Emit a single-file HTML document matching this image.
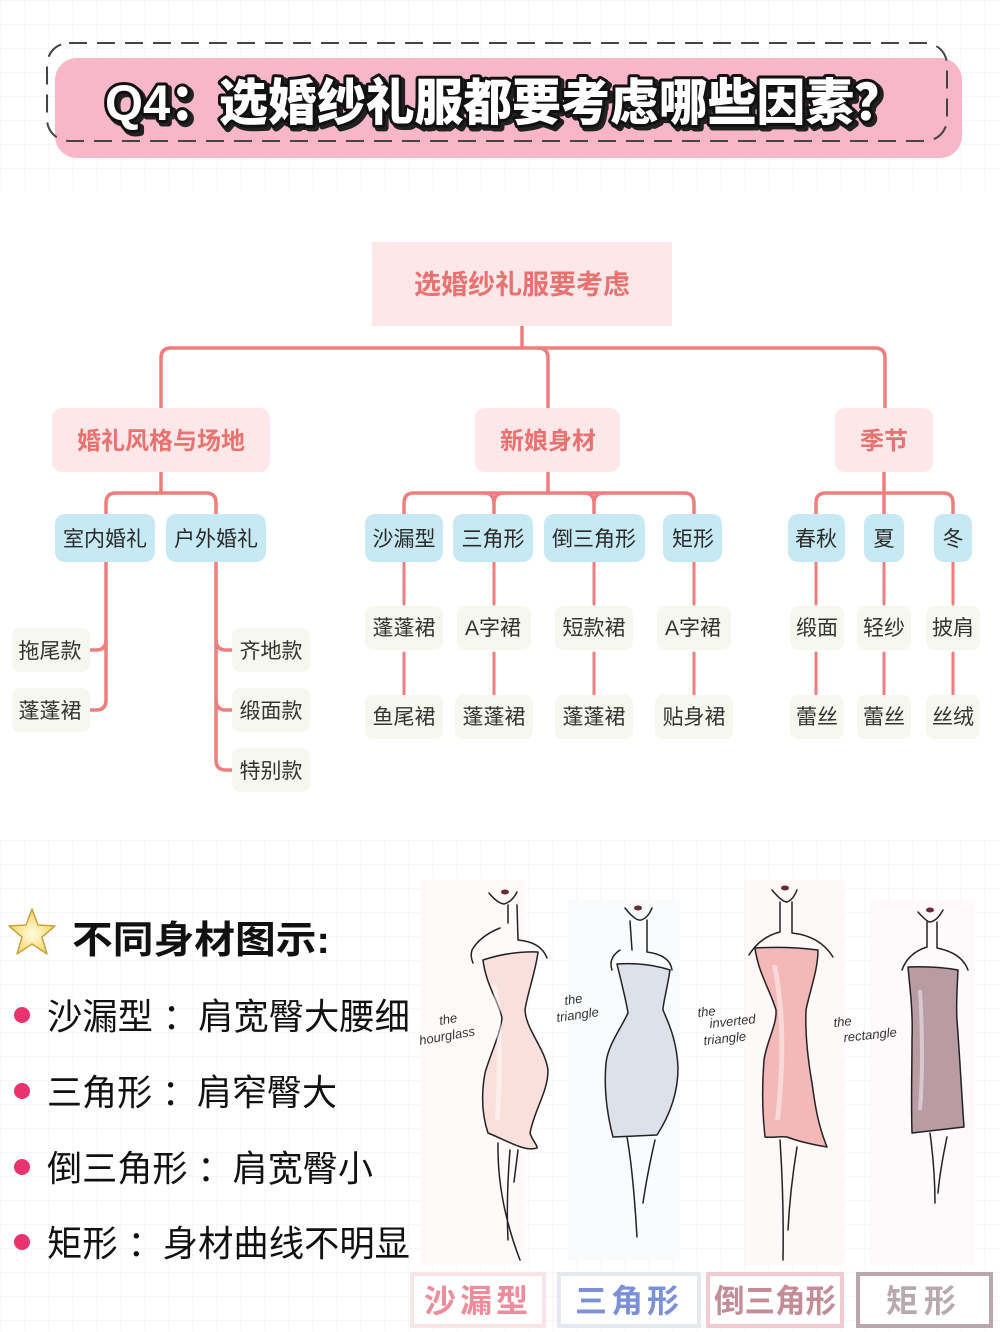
<!DOCTYPE html>
<html><head><meta charset="utf-8">
<style>
html,body{margin:0;padding:0;background:#fff;}
svg{display:block;}
text{font-family:"Liberation Sans","Noto Sans CJK SC",sans-serif;}
.hw{font-family:"DejaVu Sans","Liberation Sans",sans-serif;font-style:italic;font-size:13px;fill:#333;}
</style></head>
<body>
<svg width="1000" height="1332" viewBox="0 0 1000 1332" xmlns="http://www.w3.org/2000/svg">
<defs>
<pattern id="g" width="24" height="24" patternUnits="userSpaceOnUse"><path d="M24 0 L0 0 0 24" fill="none" stroke="#efefef" stroke-width="1"/></pattern>
<radialGradient id="star" cx="50%" cy="55%" r="60%"><stop offset="0" stop-color="#fffbe0"/><stop offset="1" stop-color="#f2cf52"/></radialGradient>
</defs>
<rect width="1000" height="1332" fill="#fff"/>
<rect x="0" y="0" width="1000" height="192" fill="url(#g)"/>
<rect x="0" y="840" width="1000" height="492" fill="url(#g)"/>

<!-- header -->
<rect x="55" y="58" width="907" height="100" rx="22" fill="#f7b7c8"/>
<rect x="47" y="43" width="900" height="98" rx="22" fill="none" stroke="#444" stroke-width="2" stroke-dasharray="18 10"/>
<text x="108" y="123" font-size="50" font-weight="900" textLength="798" lengthAdjust="spacingAndGlyphs" fill="#222" stroke="#222" stroke-width="7" stroke-linejoin="round">Q4：选婚纱礼服都要考虑哪些因素？</text>
<text x="105" y="120" font-size="50" font-weight="900" textLength="798" lengthAdjust="spacingAndGlyphs" fill="#fff" stroke="#111" stroke-width="6" stroke-linejoin="round" paint-order="stroke">Q4：选婚纱礼服都要考虑哪些因素？</text>

<!-- tree connectors -->
<g fill="none" stroke="#ee7d7e" stroke-width="3.5" stroke-linecap="round">
<path d="M522,326 L522,348"/>
<path d="M161,408 L161,358 Q161,348 171,348 L875,348 Q885,348 885,358 L885,408"/>
<path d="M538,348 Q548,348 548,358 L548,408"/>
<path d="M161,472 L161,493"/>
<path d="M106,515 L106,503 Q106,493 116,493 L206,493 Q216,493 216,503 L216,515"/>
<path d="M548,472 L548,493"/>
<path d="M404,515 L404,503 Q404,493 414,493 L684,493 Q694,493 694,503 L694,515"/>
<path d="M484,493 Q494,493 494,503 L494,515 M504,493 Q494,493 494,503"/>
<path d="M584,493 Q594,493 594,503 L594,515 M604,493 Q594,493 594,503"/>
<path d="M884,472 L884,515"/>
<path d="M816,515 L816,503 Q816,493 826,493 L943,493 Q953,493 953,503 L953,515"/>
<path d="M106,562 L106,700 Q106,710 96,710 L91,710"/>
<path d="M106,640 Q106,650 96,650 L91,650"/>
<path d="M216,562 L216,760 Q216,770 226,770 L232,770"/>
<path d="M216,640 Q216,650 226,650 L232,650"/>
<path d="M216,700 Q216,710 226,710 L232,710"/>
</g>
<g fill="none" stroke="#ee7d7e" stroke-width="3" stroke-linecap="round">
<path d="M404,562 L404,604 M404,653 L404,694"/>
<path d="M494,562 L494,604 M494,653 L494,694"/>
<path d="M594,562 L594,604 M594,653 L594,694"/>
<path d="M694,562 L694,604 M694,653 L694,694"/>
<path d="M816,562 L816,604 M816,653 L816,694"/>
<path d="M884,562 L884,604 M884,653 L884,694"/>
<path d="M953,562 L953,604 M953,653 L953,694"/>
</g>

<!-- root & level 1 -->
<rect x="372" y="242" width="300" height="84" fill="#fde7e9"/>
<text x="522" y="294" font-size="27" font-weight="bold" fill="#e9716f" text-anchor="middle">选婚纱礼服要考虑</text>
<rect x="52" y="408" width="218" height="64" rx="10" fill="#fde7e9"/>
<text x="161" y="449" font-size="24" font-weight="bold" fill="#e9716f" text-anchor="middle">婚礼风格与场地</text>
<rect x="475" y="408" width="145" height="64" rx="10" fill="#fde7e9"/>
<text x="548" y="449" font-size="24" font-weight="bold" fill="#e9716f" text-anchor="middle">新娘身材</text>
<rect x="835" y="408" width="98" height="64" rx="10" fill="#fde7e9"/>
<text x="884" y="449" font-size="24" font-weight="bold" fill="#e9716f" text-anchor="middle">季节</text>

<!-- level 2 -->
<g fill="#c6e9f3">
<rect x="55" y="514" width="100" height="48" rx="10"/>
<rect x="166" y="514" width="100" height="48" rx="10"/>
<rect x="365" y="514" width="78" height="48" rx="10"/>
<rect x="453" y="514" width="80" height="48" rx="10"/>
<rect x="544" y="514" width="101" height="48" rx="10"/>
<rect x="663" y="514" width="59" height="48" rx="10"/>
<rect x="788" y="514" width="57" height="48" rx="10"/>
<rect x="864" y="514" width="40" height="48" rx="10"/>
<rect x="934" y="514" width="38" height="48" rx="10"/>
</g>
<g font-size="21" fill="#2a2a2a" text-anchor="middle">
<text x="105" y="546">室内婚礼</text>
<text x="216" y="546">户外婚礼</text>
<text x="404" y="546">沙漏型</text>
<text x="493" y="546">三角形</text>
<text x="594" y="546">倒三角形</text>
<text x="693" y="546">矩形</text>
<text x="816" y="546">春秋</text>
<text x="884" y="546">夏</text>
<text x="953" y="546">冬</text>
</g>

<!-- level 3 boxes -->
<g fill="#f6f8ef">
<rect x="12" y="628" width="78" height="44" rx="8"/>
<rect x="12" y="688" width="78" height="44" rx="8"/>
<rect x="232" y="628" width="78" height="44" rx="8"/>
<rect x="232" y="688" width="78" height="44" rx="8"/>
<rect x="232" y="748" width="78" height="44" rx="8"/>
<rect x="365" y="606" width="78" height="44" rx="8"/>
<rect x="365" y="695" width="78" height="44" rx="8"/>
<rect x="457" y="606" width="74" height="44" rx="8"/>
<rect x="455" y="695" width="78" height="44" rx="8"/>
<rect x="555" y="606" width="78" height="44" rx="8"/>
<rect x="555" y="695" width="78" height="44" rx="8"/>
<rect x="657" y="606" width="74" height="44" rx="8"/>
<rect x="655" y="695" width="78" height="44" rx="8"/>
<rect x="790" y="606" width="54" height="44" rx="8"/>
<rect x="790" y="695" width="54" height="44" rx="8"/>
<rect x="857" y="606" width="54" height="44" rx="8"/>
<rect x="857" y="695" width="54" height="44" rx="8"/>
<rect x="926" y="606" width="54" height="44" rx="8"/>
<rect x="926" y="695" width="54" height="44" rx="8"/>
</g>
<g font-size="21" fill="#333" text-anchor="middle">
<text x="50" y="658">拖尾款</text>
<text x="50" y="718">蓬蓬裙</text>
<text x="271" y="658">齐地款</text>
<text x="271" y="718">缎面款</text>
<text x="271" y="778">特别款</text>
<text x="404" y="635">蓬蓬裙</text>
<text x="404" y="724">鱼尾裙</text>
<text x="493" y="635">A字裙</text>
<text x="494" y="724">蓬蓬裙</text>
<text x="594" y="635">短款裙</text>
<text x="594" y="724">蓬蓬裙</text>
<text x="693" y="635">A字裙</text>
<text x="694" y="724">贴身裙</text>
<text x="817" y="635">缎面</text>
<text x="817" y="724">蕾丝</text>
<text x="884" y="635">轻纱</text>
<text x="884" y="724">蕾丝</text>
<text x="953" y="635">披肩</text>
<text x="953" y="724">丝绒</text>
</g>

<!-- bottom left -->
<polygon points="32,909 38,925 55,926 42,937 47,954 32,944 17,954 22,937 9,926 26,925" fill="url(#star)" stroke="#c9a23a" stroke-width="1.5" stroke-linejoin="round"/>
<text x="72" y="953" font-size="38" font-weight="bold" fill="#111" textLength="258" lengthAdjust="spacingAndGlyphs">不同身材图示:</text>
<g fill="#e8336f">
<circle cx="22" cy="1015" r="8"/>
<circle cx="22" cy="1091" r="8"/>
<circle cx="22" cy="1167" r="8"/>
<circle cx="22" cy="1242" r="8"/>
</g>
<g font-size="36" fill="#111">
<text x="47" y="1029" textLength="363" lengthAdjust="spacingAndGlyphs">沙漏型 ：肩宽臀大腰细</text>
<text x="47" y="1105" textLength="290" lengthAdjust="spacingAndGlyphs">三角形 ：肩窄臀大</text>
<text x="47" y="1181" textLength="326" lengthAdjust="spacingAndGlyphs">倒三角形 ：肩宽臀小</text>
<text x="47" y="1256" textLength="363" lengthAdjust="spacingAndGlyphs">矩形 ：身材曲线不明显</text>
</g>

<!-- dress panels -->
<rect x="420" y="880" width="105" height="385" fill="#fefafa"/>
<rect x="568" y="900" width="112" height="360" fill="#fafbfd"/>
<rect x="745" y="880" width="100" height="385" fill="#fef9f9"/>
<rect x="870" y="900" width="105" height="365" fill="#fef9fa"/>

<g fill="none" stroke="#222" stroke-width="1.5" stroke-linecap="round" stroke-linejoin="round">
<path d="M483,960 Q510,951 538,952 C536,970 527,995 525,1010 C526,1030 545,1048 548,1070 C548,1092 535,1108 530,1133 C532,1140 538,1146 537,1148 C525,1152 510,1142 488,1133 C482,1115 481,1095 485,1073 C490,1055 500,1035 502,1018 C498,1000 486,985 483,960 Z" fill="#f9e0dd"/>
<path d="M489,893 Q497,903 504,904 Q512,902 517,892"/>
<path d="M508,905 L508,923"/>
<path d="M500,928 Q480,936 472,950 Q470,956 473,963"/>
<path d="M517,905 L518,940 Q541,942 547,958"/>
<path d="M498,1143 Q497,1200 520,1260 M510,1150 Q506,1200 508,1240 M518,1150 L514,1182"/>
<path d="M617,964 Q645,962 670,970 C667,990 663,1003 663,1010 C668,1022 677,1040 678,1068 C678,1095 668,1118 657,1135 L613,1137 C606,1110 604,1085 606,1063 C608,1045 620,1030 628,1013 C626,1000 622,985 617,964 Z" fill="#dde1ea"/>
<path d="M625,908 Q635,921 641,920 Q648,918 652,908"/>
<path d="M630,921 L632,950 M620,950 Q608,958 612,970"/>
<path d="M647,920 L647,952 Q670,955 672,970"/>
<path d="M627,1137 Q633,1170 637,1237 M655,1140 Q647,1175 643,1203"/>
<path d="M755,948 Q787,946 818,950 C818,970 810,990 806,1010 C805,1035 808,1060 812,1083 C815,1105 818,1125 827,1147 C815,1145 800,1142 787,1137 C780,1136 772,1138 765,1137 C762,1110 762,1085 764,1060 C767,1040 777,1025 776,1010 C770,990 758,972 755,948 Z" fill="#f4b8b8"/>
<path d="M772,890 Q782,902 787,902 Q793,900 797,890"/>
<path d="M780,902 L780,932 Q760,937 749,955"/>
<path d="M792,902 L792,933 Q820,936 833,957"/>
<path d="M780,1140 Q784,1200 783,1260 M797,1147 Q790,1190 788,1230"/>
<path d="M908,967 Q935,966 958,970 C957,990 956,1005 957,1020 C960,1060 962,1100 964,1127 L912,1133 C911,1100 912,1070 912,1040 C913,1010 910,990 908,967 Z" fill="#b99ba4"/>
<path d="M918,912 Q927,922 930,922 Q937,921 943,910"/>
<path d="M927,922 L927,947 Q908,953 902,970"/>
<path d="M937,922 L937,948 Q962,953 968,970"/>
<path d="M930,1133 Q935,1170 935,1203 M947,1137 Q940,1170 938,1193"/>
</g>
<g fill="#6b2a35">
<ellipse cx="505" cy="892" rx="4" ry="2.5"/>
<ellipse cx="638" cy="908" rx="4" ry="2.5"/>
<ellipse cx="785" cy="888" rx="4" ry="2.5"/>
<ellipse cx="930" cy="910" rx="4" ry="2.5"/>
</g>
<g fill="#ffffff" opacity="0.45">
<path d="M492,985 Q500,1030 495,1120 L500,1120 Q505,1030 497,985 Z"/>
<path d="M772,965 Q785,1030 775,1120 L780,1120 Q790,1030 777,965 Z"/>
<path d="M918,990 Q922,1060 918,1110 L922,1110 Q926,1060 922,990 Z"/>
</g>
<g class="hw">
<text transform="translate(440,1025) rotate(-10)">the</text>
<text transform="translate(420,1045) rotate(-10)">hourglass</text>
<text transform="translate(565,1005) rotate(-8)">the</text>
<text transform="translate(557,1022) rotate(-8)">triangle</text>
<text transform="translate(698,1017) rotate(-6)">the</text>
<text transform="translate(710,1028) rotate(-6)">inverted</text>
<text transform="translate(704,1045) rotate(-6)">triangle</text>
<text transform="translate(834,1027) rotate(-6)">the</text>
<text transform="translate(844,1042) rotate(-6)">rectangle</text>
</g>

<!-- bottom label boxes -->
<rect x="412" y="1274" width="132" height="52" fill="#fff" stroke="#fbe4e7" stroke-width="4"/>
<rect x="559" y="1274" width="140" height="52" fill="#fff" stroke="#e6e8ef" stroke-width="4"/>
<rect x="708" y="1274" width="134" height="52" fill="#fff" stroke="#f0cbd1" stroke-width="4"/>
<rect x="858" y="1274" width="133" height="52" fill="#fff" stroke="#bca6ad" stroke-width="4"/>
<g font-size="32" font-weight="bold" text-anchor="middle">
<text x="478" y="1312" fill="#ef8c9b" letter-spacing="4">沙漏型</text>
<text x="629" y="1312" fill="#7b90d6" letter-spacing="4">三角形</text>
<text x="775" y="1312" fill="#c48c97" textLength="122" lengthAdjust="spacingAndGlyphs">倒三角形</text>
<text x="924" y="1312" fill="#b8a9af" letter-spacing="6">矩形</text>
</g>
</svg>
</body></html>
